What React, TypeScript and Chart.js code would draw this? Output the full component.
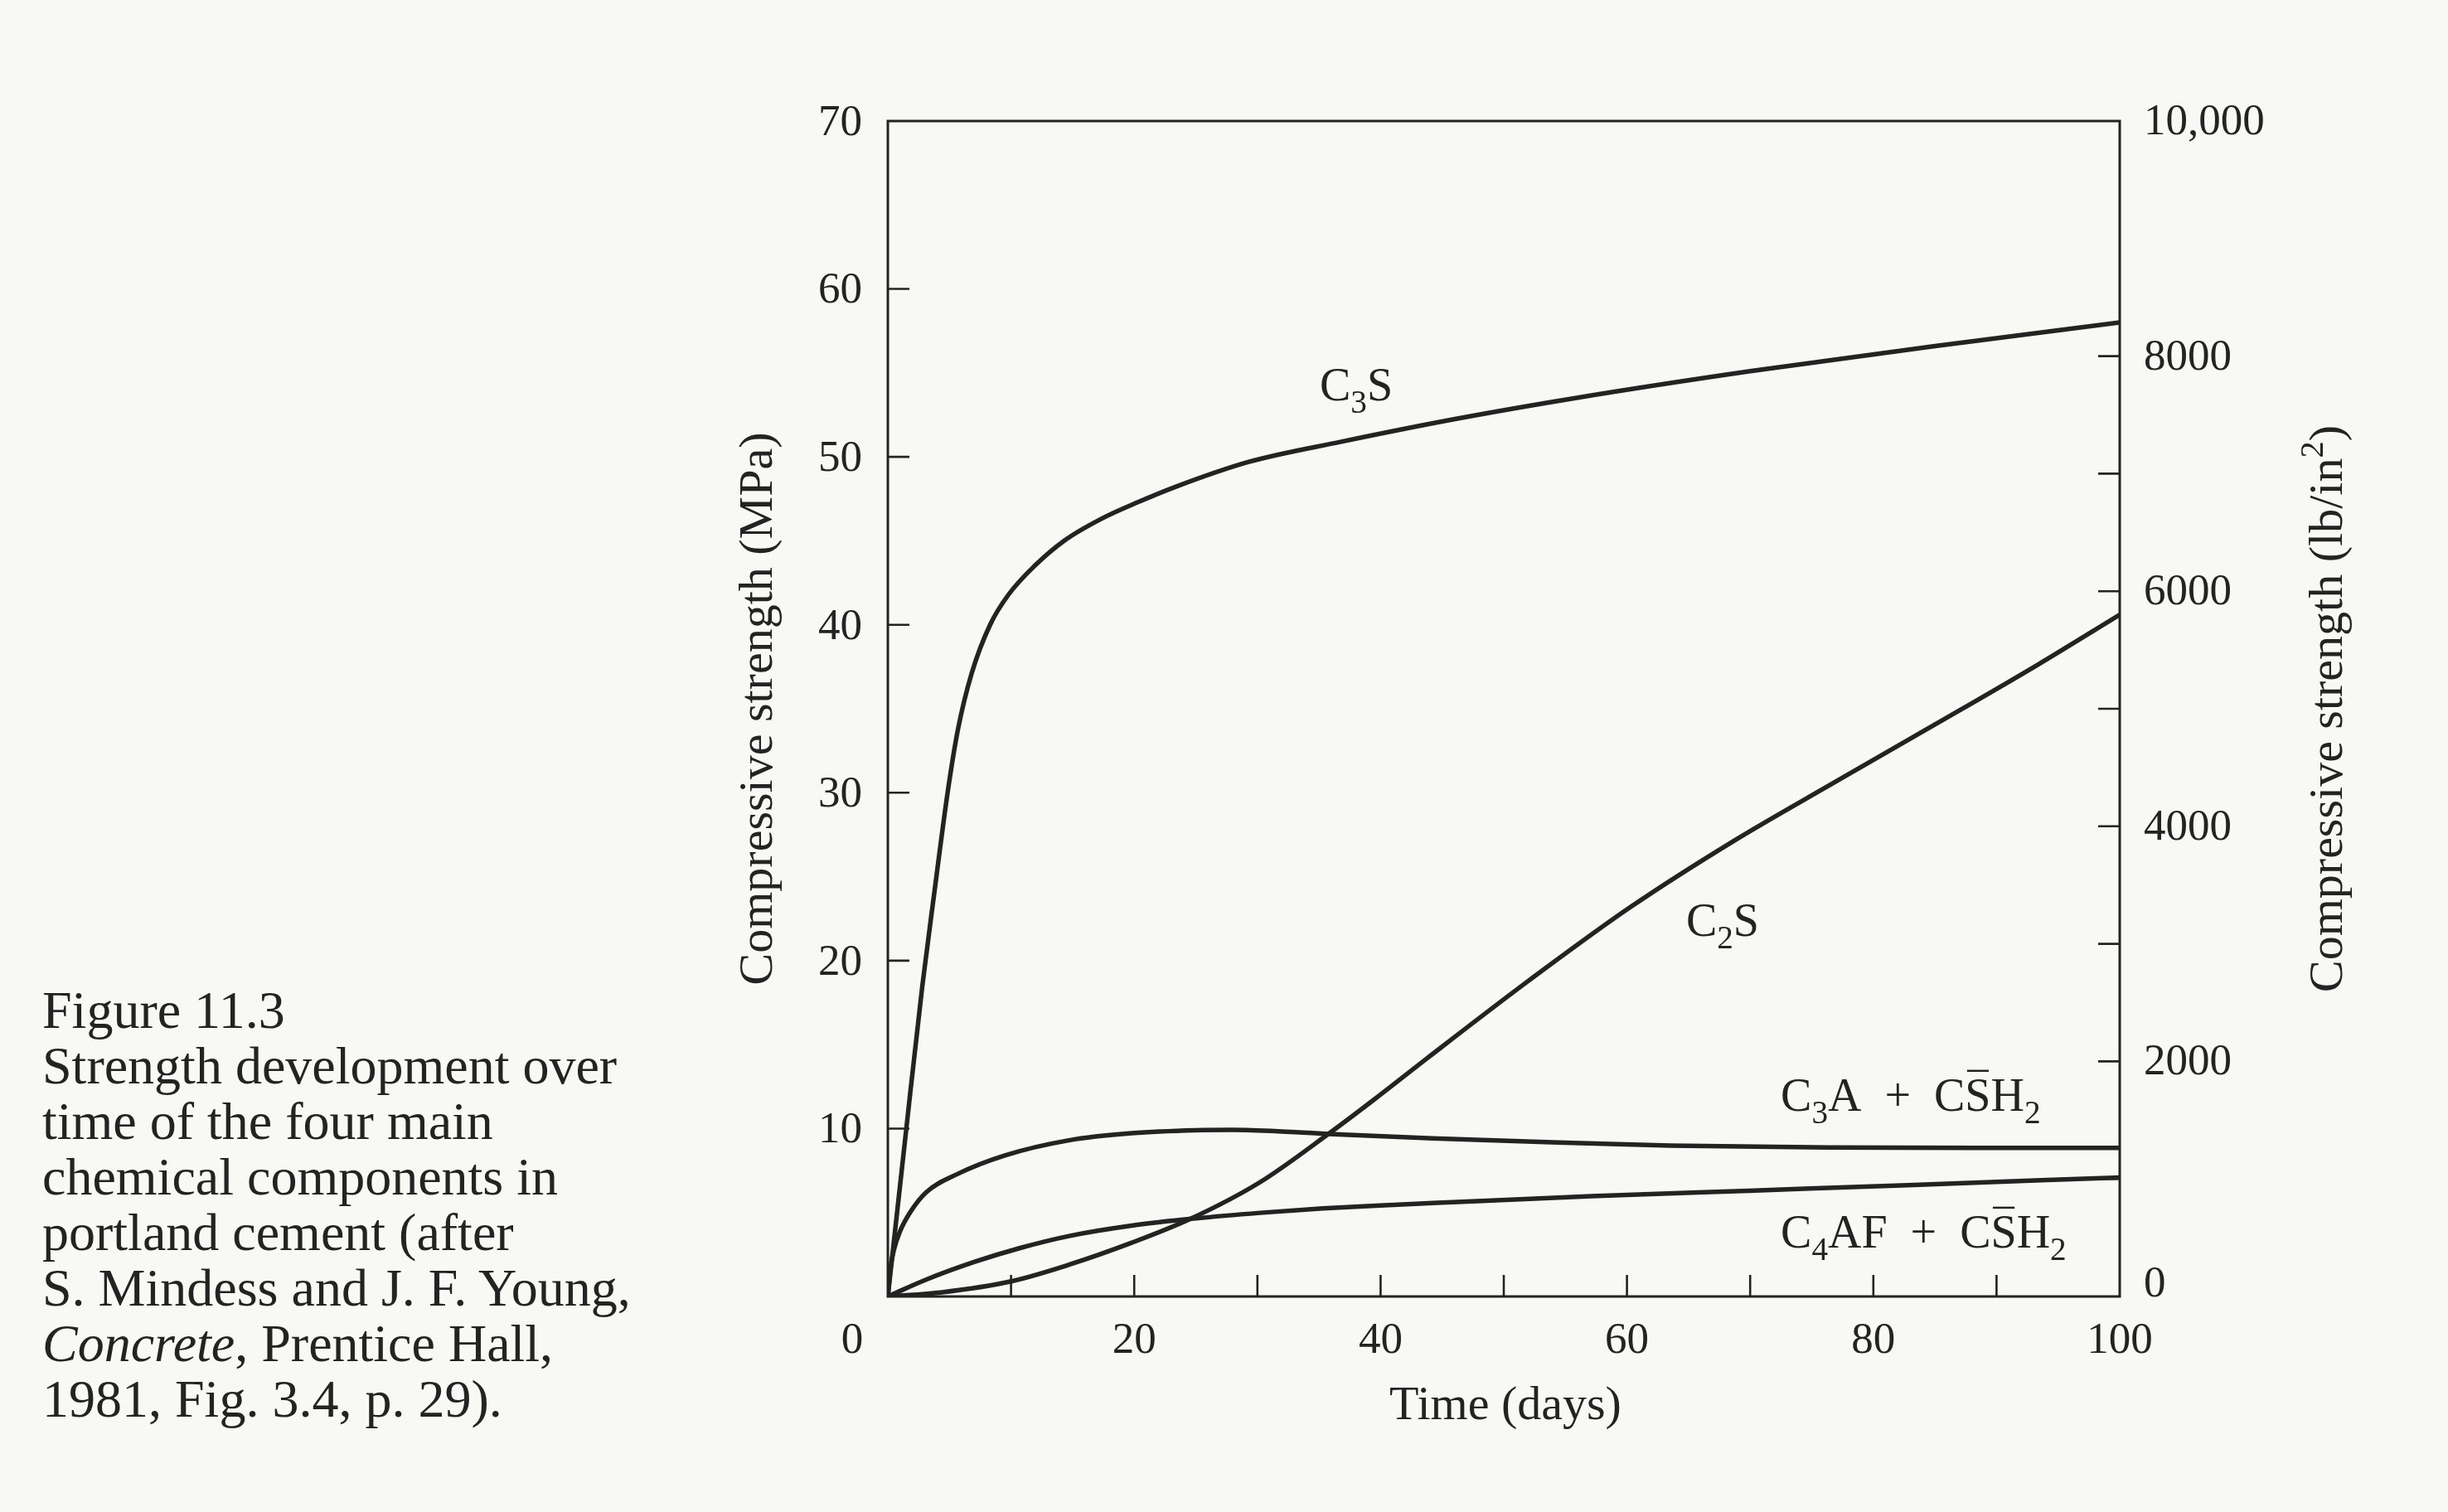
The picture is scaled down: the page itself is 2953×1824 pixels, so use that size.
import { useEffect, useRef } from 'react';
import { Chart, registerables } from 'chart.js';

Chart.register(...registerables);

const W = 2953;
const H = 1824;
const BG = '#f8f8f5';
const INK = '#232323';
const FONT = '"Liberation Serif", "Times New Roman", serif';

// ---- data (time in days, strength in MPa) ----
const c3sDays = [0, 1.5, 2.8, 3.8, 4.85, 5.7, 6.8, 8.3, 9.8, 11.9, 14.3, 17.3, 20.3, 23.3, 29.3, 36.8, 46.4, 55.8, 70, 85, 100];
const c3sMPa = [0, 10, 18.5, 24.2, 30, 33.8, 37.1, 40, 41.8, 43.5, 45.0, 46.3, 47.3, 48.2, 49.7, 50.9, 52.3, 53.5, 55.1, 56.6, 58];

const c2sDays = [0, 4.4, 10, 14.7, 19.8, 24.5, 30.2, 35.8, 39.6, 43.8, 52.1, 60.3, 68.6, 76.8, 85.1, 93.3, 100];
const c2sMPa = [0, 0.25, 0.9, 1.89, 3.2, 4.6, 6.8, 9.7, 11.8, 14.2, 18.85, 23.2, 27.1, 30.6, 34.1, 37.6, 40.6];

const c3aDays = [0, 0.2, 0.5, 1, 1.8, 3.1, 5.67, 9.5, 14.7, 19.8, 25, 28, 32.7, 35.8, 44.2, 53.9, 63.5, 76.3, 88, 100];
const c3aMPa = [0, 1.6, 2.8, 3.9, 5.0, 6.2, 7.3, 8.4, 9.3, 9.72, 9.9, 9.92, 9.8, 9.68, 9.42, 9.18, 8.98, 8.87, 8.85, 8.85];

const c4afDays = [0, 3.1, 7, 10.8, 14.7, 19.8, 25, 30.2, 35.3, 39.6, 44.2, 57.1, 69.9, 82.8, 100];
const c4afMPa = [0, 1.0, 2.05, 2.9, 3.6, 4.22, 4.65, 4.98, 5.24, 5.41, 5.56, 5.97, 6.3, 6.63, 7.09];

// ---- axes ----
const xTickValues = [10, 20, 30, 40, 50, 60, 70, 80, 90];
const xLabelValues = [0, 20, 40, 60, 80, 100];
const yTickValues = [10, 20, 30, 40, 50, 60];
const yLabelValues = [10, 20, 30, 40, 50, 60, 70];
const y2TickValues = [1000, 2000, 3000, 4000, 5000, 6000, 7000, 8000];
const y2LabelValues = [0, 2000, 4000, 6000, 8000, 10000];
const y2LabelTexts = ['0', '2000', '4000', '6000', '8000', '10,000'];

// ---- curve labels (anchored in data coordinates: day, MPa) ----
type Seg = { t: string; sub?: boolean; sup?: boolean; bar?: boolean };
const curveLabelDays = [35.06, 64.8, 72.48, 72.48];
const curveLabelMPa = [53.36, 21.47, 11.06, 2.91];
const curveLabelSegs: Seg[][] = [
  [{ t: 'C' }, { t: '3', sub: true }, { t: 'S' }],
  [{ t: 'C' }, { t: '2', sub: true }, { t: 'S' }],
  [{ t: 'C' }, { t: '3', sub: true }, { t: 'A  +  C' }, { t: 'S', bar: true }, { t: 'H' }, { t: '2', sub: true }],
  [{ t: 'C' }, { t: '4', sub: true }, { t: 'AF  +  C' }, { t: 'S', bar: true }, { t: 'H' }, { t: '2', sub: true }],
];

const xTitle: Seg[] = [{ t: 'Time (days)' }];
const yTitle: Seg[] = [{ t: 'Compressive strength (MPa)' }];
const y2Title: Seg[] = [{ t: 'Compressive strength (lb/in' }, { t: '2', sup: true }, { t: ')' }];

const captionLines = [
  'Figure 11.3',
  'Strength development over',
  'time of the four main',
  'chemical components in',
  'portland cement (after',
  'S. Mindess and J. F. Young,',
  '*Concrete*, Prentice Hall,',
  '1981, Fig. 3.4, p. 29).',
];

function toPoints(xs: number[], ys: number[]) {
  return xs.map((x, i) => ({ x, y: ys[i] }));
}

function segFont(seg: Seg, size: number) {
  const s = seg.sub || seg.sup ? size * 0.7 : size;
  return `${s}px ${FONT}`;
}

function richWidth(ctx: CanvasRenderingContext2D, segs: Seg[], size: number) {
  let w = 0;
  for (const s of segs) {
    ctx.font = segFont(s, size);
    w += ctx.measureText(s.t).width;
  }
  return w;
}

function drawRich(
  ctx: CanvasRenderingContext2D,
  segs: Seg[],
  x: number,
  y: number,
  size: number,
  align: 'left' | 'center'
) {
  let cx = align === 'center' ? x - richWidth(ctx, segs, size) / 2 : x;
  ctx.textAlign = 'left';
  ctx.textBaseline = 'alphabetic';
  for (const s of segs) {
    ctx.font = segFont(s, size);
    const w = ctx.measureText(s.t).width;
    const dy = s.sub ? size * 0.27 : s.sup ? -size * 0.4 : 0;
    ctx.fillText(s.t, cx, y + dy);
    if (s.bar) {
      ctx.beginPath();
      ctx.lineWidth = 2.5;
      ctx.moveTo(cx + w * 0.08, y - size * 0.86);
      ctx.lineTo(cx + w * 0.92, y - size * 0.86);
      ctx.stroke();
    }
    cx += w;
  }
}

const decorPlugin = {
  id: 'decor',
  afterDraw(chart: any) {
    const ctx: CanvasRenderingContext2D = chart.ctx;
    const a = chart.chartArea;
    const xs = chart.scales.x;
    const ys = chart.scales.y;
    const y2 = chart.scales.y2;
    ctx.save();
    ctx.strokeStyle = INK;
    ctx.fillStyle = INK;
    ctx.lineWidth = 3;
    ctx.strokeRect(a.left, a.top, a.right - a.left, a.bottom - a.top);

    const TL = 26;
    ctx.lineWidth = 2.6;
    ctx.beginPath();
    xTickValues.forEach((v) => {
      const px = xs.getPixelForValue(v);
      ctx.moveTo(px, a.bottom);
      ctx.lineTo(px, a.bottom - TL);
    });
    yTickValues.forEach((v) => {
      const py = ys.getPixelForValue(v);
      ctx.moveTo(a.left, py);
      ctx.lineTo(a.left + TL, py);
    });
    y2TickValues.forEach((v) => {
      const py = y2.getPixelForValue(v);
      ctx.moveTo(a.right, py);
      ctx.lineTo(a.right - TL, py);
    });
    ctx.stroke();

    const tickSize = 53;
    ctx.font = `${tickSize}px ${FONT}`;
    // left labels
    ctx.textAlign = 'right';
    ctx.textBaseline = 'middle';
    yLabelValues.forEach((v) => {
      ctx.fillText(String(v), a.left - 31, ys.getPixelForValue(v) + 3);
    });
    // right labels
    ctx.textAlign = 'left';
    y2LabelValues.forEach((v, i) => {
      const py = y2.getPixelForValue(v) + (v === 0 ? -14 : 2);
      ctx.fillText(y2LabelTexts[i], a.right + 29, py);
    });
    // bottom labels
    ctx.textAlign = 'center';
    ctx.textBaseline = 'alphabetic';
    xLabelValues.forEach((v) => {
      const px = xs.getPixelForValue(v) + (v === 0 ? -43 : 0);
      ctx.fillText(String(v), px, a.bottom + 68);
    });

    // titles
    const titleSize = 58;
    drawRich(ctx, xTitle, (a.left + a.right) / 2 + 2, a.bottom + 148, titleSize, 'center');
    const midY = (a.top + a.bottom) / 2;
    ctx.save();
    ctx.translate(a.left - 140, midY);
    ctx.rotate(-Math.PI / 2);
    drawRich(ctx, yTitle, 0, 0, titleSize, 'center');
    ctx.restore();
    ctx.save();
    ctx.translate(a.right + 268, midY);
    ctx.rotate(-Math.PI / 2);
    drawRich(ctx, y2Title, 0, 0, titleSize, 'center');
    ctx.restore();

    // curve labels
    curveLabelSegs.forEach((segs, i) => {
      const px = xs.getPixelForValue(curveLabelDays[i]);
      const py = ys.getPixelForValue(curveLabelMPa[i]);
      drawRich(ctx, segs, px, py, 56, 'left');
    });
    ctx.restore();
  },
};

export default function App() {
  const ref = useRef<HTMLCanvasElement>(null);

  useEffect(() => {
    document.body.style.margin = '0';
    const line = (xs: number[], ys: number[]) => ({
      data: toPoints(xs, ys),
      borderColor: INK,
      borderWidth: 5.5,
      pointRadius: 0,
      fill: false,
      cubicInterpolationMode: 'monotone' as const,
      borderCapStyle: 'round' as const,
      borderJoinStyle: 'round' as const,
    });
    const chart = new Chart(ref.current as HTMLCanvasElement, {
      type: 'line',
      data: {
        datasets: [
          line(c3sDays, c3sMPa),
          line(c2sDays, c2sMPa),
          line(c3aDays, c3aMPa),
          line(c4afDays, c4afMPa),
        ],
      },
      options: {
        animation: false,
        responsive: false,
        devicePixelRatio: 1,
        parsing: false as any,
        layout: {
          autoPadding: false,
          padding: { left: 1071, right: W - 2557, top: 146, bottom: H - 1564 },
        },
        plugins: {
          legend: { display: false },
          tooltip: { enabled: false },
        },
        events: [],
        scales: {
          x: { type: 'linear', min: 0, max: 100, display: false },
          y: { type: 'linear', position: 'left', min: 0, max: 70, display: false },
          y2: { type: 'linear', position: 'right', min: 0, max: 10000, display: false },
        },
      },
      plugins: [decorPlugin],
    });
    return () => chart.destroy();
  }, []);

  return (
    <div
      style={{
        position: 'fixed',
        left: 0,
        top: 0,
        width: W,
        height: H,
        background: BG,
        overflow: 'hidden',
      }}
    >
      <canvas
        ref={ref}
        width={W}
        height={H}
        style={{ position: 'absolute', left: 0, top: 0, width: W, height: H }}
      />
      <div
        style={{
          position: 'absolute',
          left: 51,
          top: 1185,
          fontFamily: FONT,
          fontSize: 64,
          lineHeight: '67px',
          color: INK,
          whiteSpace: 'nowrap',
        }}
      >
        {captionLines.map((ln, i) => {
          const parts = ln.split('*');
          return (
            <div key={i}>
              {parts.map((p, j) => (j % 2 === 1 ? <i key={j}>{p}</i> : <span key={j}>{p}</span>))}
            </div>
          );
        })}
      </div>
    </div>
  );
}
